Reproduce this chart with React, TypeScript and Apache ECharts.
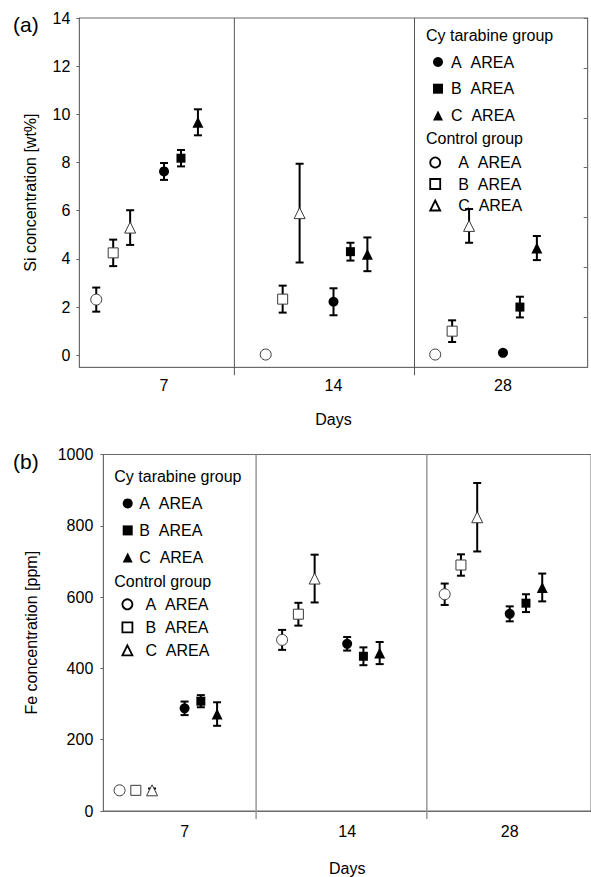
import React, { useEffect, useRef } from 'react';
import * as echarts from 'echarts';

// ---------- data ----------
const DAYS = ['7', '14', '28'];
const SI_TICKS = [0, 2, 4, 6, 8, 10, 12, 14];

// Panel (a) Si concentration [wt%]
const SI_CYT_A = [7.63, 2.22, 0.1];
const SI_CYT_A_ERR = [0.35, 0.56, 0];
const SI_CYT_B = [8.18, 4.3, 2.0];
const SI_CYT_B_ERR = [0.34, 0.37, 0.43];
const SI_CYT_C = [9.67, 4.19, 4.45];
const SI_CYT_C_ERR = [0.54, 0.7, 0.5];
const SI_CTL_A = [2.31, 0.03, 0.03];
const SI_CTL_A_ERR = [0.5, 0, 0];
const SI_CTL_B = [4.25, 2.33, 1.0];
const SI_CTL_B_ERR = [0.55, 0.56, 0.45];
const SI_CTL_C = [5.3, 5.9, 5.37];
const SI_CTL_C_ERR = [0.72, 2.05, 0.7];

// Panel (b) Fe concentration [ppm]
const FE_CYT_A = [288, 469, 553];
const FE_CYT_A_ERR = [19, 19, 21];
const FE_CYT_B = [308, 434, 583];
const FE_CYT_B_ERR = [17, 25, 25];
const FE_CYT_C = [272, 443, 627];
const FE_CYT_C_ERR = [33, 31, 39];
const FE_CTL_A = [58, 480, 608];
const FE_CTL_A_ERR = [5, 28, 30];
const FE_CTL_B = [58, 552, 690];
const FE_CTL_B_ERR = [4, 32, 30];
const FE_CTL_C = [58, 652, 824];
const FE_CTL_C_ERR = [5, 67, 96];

// ---------- layout / style ----------
const FONT = 'Liberation Sans, Arial, Helvetica, sans-serif';
const AXIS_COLOR = '#6a6a6a';
// offsets of each group inside a day band (in band units)
const OFFSETS = { ctlA: -0.4, ctlB: -0.3, ctlC: -0.2, cytA: 0, cytB: 0.1, cytC: 0.2 };
const SEP_A = [0.915, 1.978];
const SEP_B = [0.94, 1.99];
const GAP = '\u00a0\u00a0';

const LABELS: Record<string, string> = {};

type Group = {
  key: keyof typeof OFFSETS;
  name: string;
  label: string;
  values: number[];
  errs: number[];
};

function groups(prefix: string, cA, cAe, cB, cBe, cC, cCe, kA, kAe, kB, kBe, kC, kCe): Group[] {
  return [
    { key: 'cytA', name: prefix + ' Cytarabine A', label: 'A' + GAP + 'AREA', values: cA, errs: cAe },
    { key: 'cytB', name: prefix + ' Cytarabine B', label: 'B' + GAP + 'AREA', values: cB, errs: cBe },
    { key: 'cytC', name: prefix + ' Cytarabine C', label: 'C' + GAP + 'AREA', values: cC, errs: cCe },
    { key: 'ctlA', name: prefix + ' Control A', label: 'A' + GAP + 'AREA', values: kA, errs: kAe },
    { key: 'ctlB', name: prefix + ' Control B', label: 'B' + GAP + 'AREA', values: kB, errs: kBe },
    { key: 'ctlC', name: prefix + ' Control C', label: 'C' + GAP + 'AREA', values: kC, errs: kCe },
  ];
}

const SI_GROUPS = groups('Si', SI_CYT_A, SI_CYT_A_ERR, SI_CYT_B, SI_CYT_B_ERR, SI_CYT_C, SI_CYT_C_ERR,
  SI_CTL_A, SI_CTL_A_ERR, SI_CTL_B, SI_CTL_B_ERR, SI_CTL_C, SI_CTL_C_ERR);
const FE_GROUPS = groups('Fe', FE_CYT_A, FE_CYT_A_ERR, FE_CYT_B, FE_CYT_B_ERR, FE_CYT_C, FE_CYT_C_ERR,
  FE_CTL_A, FE_CTL_A_ERR, FE_CTL_B, FE_CTL_B_ERR, FE_CTL_C, FE_CTL_C_ERR);
[...SI_GROUPS, ...FE_GROUPS].forEach((g) => { LABELS[g.name] = g.label; });

function symbolStyle(key: string) {
  const filled = key.startsWith('cyt');
  const shape = key.endsWith('A') ? 'circle' : key.endsWith('B') ? 'rect' : 'triangle';
  const size: any = shape === 'circle' ? (filled ? 10 : 11) : shape === 'rect' ? (filled ? 9 : 10) : [11, 11];
  return {
    symbol: shape,
    symbolSize: size,
    itemStyle: filled
      ? { color: '#000', borderColor: '#000', borderWidth: 0, opacity: 1 }
      : { color: '#fff', borderColor: '#3a3a3a', borderWidth: 1, opacity: 1 },
  };
}

function errRender(params: any, api: any) {
  const x = api.value(0);
  const lo = api.value(1);
  const hi = api.value(2);
  if (!(hi - lo > 0)) return { type: 'group', children: [] };
  const top = api.coord([x, hi]);
  const bot = api.coord([x, lo]);
  const hw = 4;
  const st = { stroke: '#000', lineWidth: 2 };
  return {
    type: 'group',
    children: [
      { type: 'line', shape: { x1: top[0], y1: top[1], x2: bot[0], y2: bot[1] }, style: st },
      { type: 'line', shape: { x1: top[0] - hw, y1: top[1], x2: top[0] + hw, y2: top[1] }, style: st },
      { type: 'line', shape: { x1: bot[0] - hw, y1: bot[1], x2: bot[0] + hw, y2: bot[1] }, style: st },
    ],
  };
}

function sepRender(color: string, width: number) {
  return (params: any, api: any) => {
    const x = api.value(0);
    const top = api.coord([x, api.value(2)]);
    const bot = api.coord([x, api.value(1)]);
    return {
      type: 'line',
      shape: { x1: top[0], y1: top[1], x2: bot[0], y2: bot[1] + 8 },
      style: { stroke: color, lineWidth: width },
    };
  };
}

function panelSeries(gs: Group[], xAxisIndex: number, yAxisIndex: number, seps: number[], yMin: number, yMax: number, sepColor: string, sepWidth: number) {
  const out: any[] = [];
  out.push({
    type: 'custom',
    name: 'sep' + xAxisIndex,
    xAxisIndex, yAxisIndex,
    renderItem: sepRender(sepColor, sepWidth),
    data: seps.map((s) => [s, yMin, yMax]),
    encode: { x: 0, y: [1, 2] },
    clip: false,
    silent: true,
    z: 1,
  });
  const errData: number[][] = [];
  gs.forEach((g) => {
    g.values.forEach((v, i) => {
      errData.push([i + 0.5 + OFFSETS[g.key], v - g.errs[i], v + g.errs[i]]);
    });
  });
  out.push({
    type: 'custom',
    name: 'err' + xAxisIndex,
    xAxisIndex, yAxisIndex,
    renderItem: errRender,
    data: errData,
    encode: { x: 0, y: [1, 2] },
    clip: false,
    silent: true,
    z: 2,
  });
  gs.forEach((g) => {
    out.push({
      type: 'scatter',
      name: g.name,
      xAxisIndex, yAxisIndex,
      data: g.values.map((v, i) => [i + 0.5 + OFFSETS[g.key], v]),
      ...symbolStyle(g.key),
      z: 3,
      silent: true,
    });
  });
  return out;
}

const legendBase = {
  orient: 'vertical',
  itemWidth: 10,
  itemHeight: 10,
  selectedMode: false,
  formatter: (name: string) => LABELS[name],
};
const ctlLegendStyle = { borderWidth: 1.8, borderColor: '#000', color: '#fff' };

export default function App() {
  const ref = useRef<HTMLDivElement>(null);
  useEffect(() => {
    if (!ref.current) return;
    const chart = echarts.init(ref.current, null, { renderer: 'svg' });
    const labelStyle = { color: '#000', fontSize: 16, fontFamily: FONT };
    const option: any = {
      animation: false,
      backgroundColor: '#fff',
      textStyle: { fontFamily: FONT },
      grid: [
        { left: 79.3, top: 18, width: 508.4, height: 349.3, show: true, borderColor: AXIS_COLOR, borderWidth: 1, backgroundColor: 'transparent' },
        { left: 103.3, top: 454.5, width: 498, height: 357, show: true, borderColor: AXIS_COLOR, borderWidth: 1, backgroundColor: 'transparent' },
      ],
      xAxis: [
        {
          gridIndex: 0, type: 'category', data: DAYS, boundaryGap: true,
          axisLine: { show: true, onZero: false, lineStyle: { color: AXIS_COLOR } },
          axisTick: { show: false },
          axisLabel: { ...labelStyle, margin: 10 },
          name: 'Days', nameLocation: 'middle', nameGap: 44,
          nameTextStyle: { ...labelStyle },
        },
        { gridIndex: 0, type: 'value', min: 0, max: 3, show: false },
        {
          gridIndex: 1, type: 'category', data: DAYS, boundaryGap: true,
          axisLine: { show: true, onZero: false, lineStyle: { color: AXIS_COLOR } },
          axisTick: { show: false },
          axisLabel: { ...labelStyle, margin: 12 },
          name: 'Days', nameLocation: 'middle', nameGap: 49,
          nameTextStyle: { ...labelStyle },
        },
        { gridIndex: 1, type: 'value', min: 0, max: 3, show: false },
      ],
      yAxis: [
        {
          gridIndex: 0, type: 'value', min: -0.5, max: 14,
          axisLine: { show: true, onZero: false, lineStyle: { color: AXIS_COLOR } },
          axisTick: { show: true, length: 3, customValues: SI_TICKS, lineStyle: { color: AXIS_COLOR } },
          axisLabel: { ...labelStyle, margin: 9, customValues: SI_TICKS, formatter: (v: number) => String(v) },
          splitLine: { show: false },
          name: 'Si concentration [wt%]', nameLocation: 'middle', nameGap: 41,
          nameTextStyle: { ...labelStyle },
        },
        {
          gridIndex: 0, type: 'value', min: 0, max: 7, interval: 1, position: 'right',
          axisLine: { show: true, onZero: false, lineStyle: { color: AXIS_COLOR } },
          axisTick: { show: true, inside: true, length: 4, lineStyle: { color: AXIS_COLOR } },
          axisLabel: { show: false },
          splitLine: { show: false },
        },
        {
          gridIndex: 1, type: 'value', min: 0, max: 1000, interval: 200,
          axisLine: { show: true, onZero: false, lineStyle: { color: AXIS_COLOR } },
          axisTick: { show: true, length: 3, lineStyle: { color: AXIS_COLOR } },
          axisLabel: { ...labelStyle, margin: 10, formatter: (v: number) => String(v) },
          splitLine: { show: false },
          name: 'Fe concentration [ppm]', nameLocation: 'middle', nameGap: 64,
          nameTextStyle: { ...labelStyle },
        },
      ],
      legend: [
        { ...legendBase, data: SI_GROUPS.slice(0, 3).map((g) => g.name), left: 428, top: 49, itemGap: 10.7,
          textStyle: { ...labelStyle, padding: [0, 0, 0, 3] } },
        { ...legendBase, data: SI_GROUPS.slice(3).map((g) => g.name), left: 424.3, top: 149.5, itemGap: 5.5,
          itemStyle: ctlLegendStyle,
          textStyle: { ...labelStyle, padding: [0, 0, 0, 13] } },
        { ...legendBase, data: FE_GROUPS.slice(0, 3).map((g) => g.name), left: 117.7, top: 490.4, itemGap: 11,
          textStyle: { ...labelStyle, padding: [0, 0, 0, 1.5] } },
        { ...legendBase, data: FE_GROUPS.slice(3).map((g) => g.name), left: 116.5, top: 591.3, itemGap: 7,
          itemStyle: ctlLegendStyle,
          textStyle: { ...labelStyle, padding: [0, 0, 0, 8] } },
      ],
      graphic: [
        { type: 'text', x: 13, y: 24, style: { text: '(a)', fontSize: 21, fontFamily: FONT, fill: '#000', verticalAlign: 'middle' } },
        { type: 'text', x: 13, y: 461, style: { text: '(b)', fontSize: 21, fontFamily: FONT, fill: '#000', verticalAlign: 'middle' } },
        { type: 'text', x: 426, y: 35, style: { text: 'Cy tarabine group', fontSize: 16, fontFamily: FONT, fill: '#000', verticalAlign: 'middle' } },
        { type: 'text', x: 426, y: 138.3, style: { text: 'Control group', fontSize: 16, fontFamily: FONT, fill: '#000', verticalAlign: 'middle' } },
        { type: 'text', x: 114.3, y: 476.7, style: { text: 'Cy tarabine group', fontSize: 16, fontFamily: FONT, fill: '#000', verticalAlign: 'middle' } },
        { type: 'text', x: 114.3, y: 581.7, style: { text: 'Control group', fontSize: 16, fontFamily: FONT, fill: '#000', verticalAlign: 'middle' } },
      ],
      series: [
        ...panelSeries(SI_GROUPS, 1, 0, SEP_A, -0.5, 14, '#555', 1),
        ...panelSeries(FE_GROUPS, 3, 2, SEP_B, 0, 1000, '#999', 1.5),
      ],
    };
    chart.setOption(option);
    return () => chart.dispose();
  }, []);
  return <div ref={ref} style={{ position: 'absolute', left: 0, top: 0, width: 591, height: 877 }} />;
}
